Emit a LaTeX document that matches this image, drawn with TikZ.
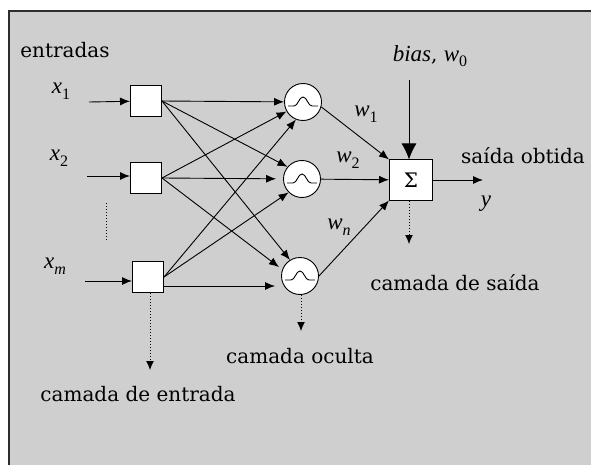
\documentclass[tikz,border=0pt]{standalone}
\usepackage{fontspec}
\setmainfont{DejaVu Serif}
\newfontfamily\symfont{Liberation Serif}
\usetikzlibrary{arrows.meta}
\definecolor{panel}{RGB}{207,207,207}
\definecolor{rim}{RGB}{45,45,45}
% italic symbol with an index below the baseline
\newcommand\idx[2]{{\symfont\fontsize{23}{24}\selectfont\itshape #1\raisebox{-0.25em}{\fontsize{16}{16}\selectfont #2}}}
\newcommand\sym[1]{{\symfont\fontsize{23}{24}\selectfont\itshape #1}}
\begin{document}
\begin{tikzpicture}[x=1pt,y=-1pt,
  lbl/.style={font=\fontsize{20}{22}\selectfont, inner sep=0pt},
  unit/.style={draw, fill=white, line width=1pt, minimum width=31pt,
    minimum height=31pt, inner sep=0pt},
  neuron/.style={draw, circle, fill=white, line width=0.9pt,
    minimum size=37pt, inner sep=0pt},
  sumbox/.style={draw, fill=white, line width=1pt, minimum width=43pt,
    minimum height=40pt, inner sep=0pt, font=\fontsize{20}{20}\selectfont},
  link/.style={line width=0.9pt, -{Latex[length=10pt,width=8pt]}},
  biaslink/.style={line width=1pt, -{Latex[length=16pt,width=15pt]}},
  pointer/.style={line width=1pt, dotted, -{Latex[length=9pt,width=8pt]}},
  wave/.style={line width=0.9pt},
]
\useasboundingbox (0,0) rectangle (591,465);
% page and grey panel with its top and left rim
\fill[white] (0,0) rectangle (591,465);
\fill[panel] (9,11) rectangle (591,465);
\draw[rim, line width=2pt] (9,465) -- (9,11) -- (591,11);

% input layer
\node[unit] (i1) at (146,101) {};
\node[unit] (i2) at (146,178) {};
\node[unit] (i3) at (148,277) {};
\node[lbl] (ent) at (65,50) {entradas};
\node[lbl] (x1) at (61,91) {\idx{x}{\upshape 1}};
\node[lbl] (x2) at (59,158) {\idx{x}{\upshape 2}};
\node[lbl] (xm) at (55,266) {\idx{x}{m}};
\coordinate (in1) at (89,102);
\coordinate (in2) at (87,176);
\coordinate (in3) at (85,281);
\coordinate (dotA) at (106,203);
\coordinate (dotB) at (106,240);

% hidden layer
\node[neuron] (h1) at (303,102) {};
\node[neuron] (h2) at (302,179) {};
\node[neuron] (h3) at (300,276) {};
\foreach \h in {h1,h2,h3}
  \draw[wave, shift={(\h)}] (-15,4) -- (-9,4)
    .. controls (-5,4) and (-4,-5) .. (0,-5)
    .. controls (4,-5) and (5,4) .. (9,4) -- (15,4);

% output neuron
\node[sumbox] (s) at (411,180) {Σ};
\node[lbl] (bias) at (430,56) {\sym{bias}, \idx{w}{\upshape 0}};
\coordinate (bin) at (409,80);
\coordinate (yout) at (483,180);
\node[lbl] (said) at (523,156) {saída obtida};
\node[lbl] (y) at (486,204) {\sym{y}};
\node[lbl] (w1) at (366,114) {\idx{w}{\upshape 1}};
\node[lbl] (w2) at (348,160) {\idx{w}{\upshape 2}};
\node[lbl] (wn) at (339,227) {\idx{w}{n}};

% layer captions
\node[lbl] (cs) at (455,283) {camada de saída};
\node[lbl] (co) at (300,356) {camada oculta};
\node[lbl] (ce) at (138,394) {camada de entrada};
\coordinate (sdown) at (409,244);
\coordinate (hdown) at (301,331);
\coordinate (idown) at (150,370);

% inputs into the input units
\draw[link] (in1) -- (i1);
\draw[link] (in2) -- (i2.west |- in2);
\draw[link] (in3) -- (i3.west |- in3);
\draw[dotted, line width=1pt] (dotA) -- (dotB);

% input units to hidden neurons
\draw[link] (i1.east) -- (h1);
\draw[link] (i1.east) -- (h2.140);
\draw[link] (i1.east) -- (h3.122);
\draw[link] (i2.east) -- (h1.210);
\draw[link, shorten >=7pt] (i2.east) -- (h2);
\draw[link, shorten >=4pt] (i2.east) -- (h3.160);
\draw[link] (i3.east) -- (h1.248);
\draw[link] (i3.east) -- (h2.225);
\draw[link, shorten >=6pt] (i3.east |- 0,286) -- (h3.west |- 0,286);

% hidden neurons to the summing unit
\draw[link] (h1.-15) -- (s.north west);
\draw[link] (h2) -- (s);
\draw[link] (h3.east) -- (s.south west);
\draw[biaslink] (bin) -- (s.north -| bin);
\draw[link] (s) -- (yout);

% pointers to the layer captions
\draw[pointer] (s.south -| sdown) -- (sdown);
\draw[pointer] (h3.south -| hdown) -- (hdown);
\draw[pointer] (i3.south -| idown) -- (idown);
\end{tikzpicture}
\end{document}
